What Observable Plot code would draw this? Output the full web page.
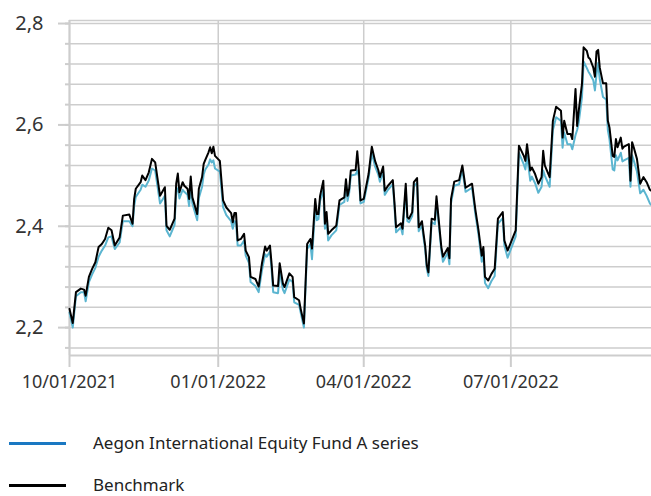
<!DOCTYPE html>
<html><head><meta charset="utf-8">
<script src="https://cdn.jsdelivr.net/npm/d3@7"></script>
<script src="https://cdn.jsdelivr.net/npm/@observablehq/plot@0.6"></script>
<style>
body{margin:0;background:#fff;font-family:"Noto Sans",sans-serif;overflow:hidden;}
#chart svg{display:block;}
#legend{position:relative;height:96px;}
.sw{position:absolute;left:9px;width:57px;height:3px;}
.lab{position:absolute;left:93px;font-size:17px;line-height:20px;color:#222;white-space:nowrap;}
</style></head><body>
<div id="chart"></div>
<div id="legend"></div>
<script>
const dates = [
"2021-10-01","2021-10-03","2021-10-05","2021-10-08","2021-10-10","2021-10-11","2021-10-13","2021-10-15","2021-10-17","2021-10-19",
"2021-10-21","2021-10-23","2021-10-25","2021-10-27","2021-10-29","2021-11-01","2021-11-03","2021-11-07","2021-11-09","2021-11-10",
"2021-11-11","2021-11-14","2021-11-15","2021-11-17","2021-11-19","2021-11-21","2021-11-23","2021-11-26","2021-11-29","2021-11-30",
"2021-12-02","2021-12-05","2021-12-06","2021-12-07","2021-12-08","2021-12-10","2021-12-11","2021-12-13","2021-12-14","2021-12-15",
"2021-12-16","2021-12-19","2021-12-20","2021-12-22","2021-12-23","2021-12-24","2021-12-26","2021-12-27","2021-12-28","2021-12-29",
"2021-12-30","2022-01-02","2022-01-04","2022-01-06","2022-01-09","2022-01-10","2022-01-11","2022-01-12","2022-01-13","2022-01-15",
"2022-01-17","2022-01-18","2022-01-20","2022-01-21","2022-01-24","2022-01-26","2022-01-28","2022-01-30","2022-01-31","2022-02-02",
"2022-02-03","2022-02-04","2022-02-07","2022-02-08","2022-02-10","2022-02-11","2022-02-14","2022-02-16","2022-02-17","2022-02-20",
"2022-02-21","2022-02-23","2022-02-24","2022-02-25","2022-02-27","2022-02-28","2022-03-02","2022-03-03","2022-03-04","2022-03-05",
"2022-03-07","2022-03-08","2022-03-09","2022-03-10","2022-03-12","2022-03-15","2022-03-17","2022-03-20","2022-03-21","2022-03-22",
"2022-03-23","2022-03-24","2022-03-27","2022-03-28","2022-03-29","2022-03-30","2022-04-01","2022-04-04","2022-04-06","2022-04-08",
"2022-04-10","2022-04-11","2022-04-13","2022-04-14","2022-04-16","2022-04-19","2022-04-20","2022-04-21","2022-04-24","2022-04-25",
"2022-04-27","2022-04-28","2022-04-29","2022-05-01","2022-05-02","2022-05-04","2022-05-05","2022-05-07","2022-05-08","2022-05-09",
"2022-05-10","2022-05-11","2022-05-13","2022-05-15","2022-05-16","2022-05-18","2022-05-19","2022-05-20","2022-05-23","2022-05-24",
"2022-05-25","2022-05-27","2022-05-30","2022-06-01","2022-06-03","2022-06-06","2022-06-07","2022-06-09","2022-06-11","2022-06-13",
"2022-06-14","2022-06-15","2022-06-17","2022-06-19","2022-06-21","2022-06-23","2022-06-26","2022-06-27","2022-06-29","2022-07-04",
"2022-07-06","2022-07-09","2022-07-10","2022-07-11","2022-07-13","2022-07-14","2022-07-16","2022-07-18","2022-07-20","2022-07-21",
"2022-07-22","2022-07-25","2022-07-27","2022-07-29","2022-08-01","2022-08-02","2022-08-03","2022-08-05","2022-08-07","2022-08-08",
"2022-08-10","2022-08-11","2022-08-12","2022-08-14","2022-08-15","2022-08-17","2022-08-18","2022-08-19","2022-08-21","2022-08-22",
"2022-08-23","2022-08-24","2022-08-25","2022-08-27","2022-08-29","2022-08-30","2022-08-31","2022-09-02","2022-09-03","2022-09-04",
"2022-09-05","2022-09-07","2022-09-08","2022-09-09","2022-09-12","2022-09-13","2022-09-14","2022-09-15","2022-09-17","2022-09-19",
"2022-09-21","2022-09-23","2022-09-25","2022-09-26"
];
const benchmark = [
2.237,2.209,2.270,2.277,2.275,2.263,2.300,2.316,2.329,2.359,
2.365,2.375,2.397,2.392,2.362,2.378,2.421,2.423,2.405,2.454,
2.474,2.487,2.500,2.491,2.506,2.533,2.526,2.460,2.477,2.401,
2.393,2.415,2.484,2.504,2.467,2.487,2.480,2.474,2.454,2.498,
2.457,2.424,2.474,2.497,2.523,2.531,2.546,2.556,2.544,2.557,
2.539,2.529,2.451,2.437,2.426,2.408,2.426,2.426,2.372,2.375,
2.385,2.352,2.339,2.300,2.296,2.281,2.326,2.360,2.352,2.362,
2.326,2.283,2.282,2.327,2.287,2.280,2.307,2.300,2.260,2.254,
2.237,2.208,2.287,2.365,2.375,2.356,2.454,2.424,2.424,2.460,
2.490,2.405,2.428,2.385,2.392,2.401,2.451,2.457,2.493,2.460,
2.474,2.510,2.511,2.548,2.510,2.451,2.454,2.503,2.557,2.529,
2.511,2.497,2.518,2.470,2.480,2.491,2.447,2.398,2.406,2.395,
2.484,2.418,2.415,2.428,2.487,2.495,2.398,2.410,2.385,2.362,
2.323,2.309,2.415,2.413,2.459,2.392,2.359,2.340,2.357,2.337,
2.454,2.488,2.491,2.520,2.476,2.482,2.484,2.434,2.392,2.342,
2.359,2.300,2.293,2.306,2.316,2.415,2.428,2.372,2.352,2.392,
2.559,2.539,2.529,2.562,2.510,2.516,2.503,2.484,2.497,2.549,
2.520,2.497,2.608,2.636,2.628,2.575,2.608,2.582,2.582,2.572,
2.671,2.598,2.628,2.681,2.753,2.746,2.733,2.730,2.713,2.695,
2.745,2.748,2.713,2.682,2.682,2.608,2.595,2.539,2.537,2.572,
2.556,2.575,2.553,2.557,2.562,2.490,2.566,2.556,2.533,2.484,
2.497,2.487,2.472,2.470
];
const fund = [
2.230,2.200,2.262,2.270,2.270,2.252,2.290,2.305,2.318,2.340,
2.352,2.362,2.378,2.380,2.355,2.368,2.410,2.410,2.400,2.440,
2.458,2.472,2.482,2.478,2.490,2.514,2.510,2.445,2.460,2.392,
2.380,2.403,2.468,2.475,2.455,2.472,2.468,2.462,2.440,2.478,
2.445,2.412,2.456,2.478,2.502,2.512,2.522,2.532,2.526,2.530,
2.514,2.508,2.438,2.422,2.410,2.395,2.410,2.408,2.362,2.362,
2.372,2.342,2.328,2.290,2.282,2.270,2.312,2.345,2.340,2.350,
2.315,2.270,2.268,2.312,2.275,2.268,2.295,2.290,2.250,2.245,
2.230,2.200,2.278,2.355,2.365,2.335,2.440,2.412,2.414,2.450,
2.472,2.395,2.415,2.372,2.382,2.392,2.442,2.448,2.482,2.450,
2.466,2.500,2.502,2.510,2.498,2.445,2.448,2.495,2.545,2.518,
2.502,2.488,2.508,2.462,2.472,2.483,2.440,2.388,2.398,2.384,
2.474,2.410,2.408,2.420,2.478,2.486,2.390,2.402,2.377,2.355,
2.316,2.302,2.408,2.404,2.450,2.385,2.352,2.330,2.348,2.325,
2.446,2.480,2.483,2.512,2.468,2.474,2.476,2.425,2.383,2.330,
2.350,2.288,2.278,2.292,2.302,2.405,2.416,2.362,2.338,2.380,
2.545,2.522,2.512,2.540,2.490,2.498,2.485,2.466,2.478,2.510,
2.500,2.478,2.590,2.615,2.608,2.555,2.585,2.562,2.562,2.552,
2.580,2.590,2.605,2.655,2.725,2.712,2.705,2.700,2.688,2.668,
2.700,2.722,2.690,2.655,2.650,2.590,2.572,2.512,2.510,2.540,
2.530,2.545,2.528,2.530,2.535,2.478,2.540,2.530,2.508,2.465,
2.472,2.460,2.445,2.442
];
const seriesNames = ["Aegon International Equity Fund A series", "Benchmark"];
const lineColors = ["#5bb5d0", "#000000"];
const legendColors = ["#1a78c2", "#000000"];
const yMajorTicks = [2.2, 2.4, 2.6, 2.8];
const yGridTicks = [2.16, 2.2, 2.24, 2.28, 2.32, 2.36, 2.4, 2.44, 2.48, 2.52, 2.56, 2.6, 2.64, 2.68, 2.72, 2.76, 2.8];
const xTickDates = ["2021-10-01", "2022-01-01", "2022-04-01", "2022-07-01"];
const xDomainDates = ["2021-10-01", "2022-09-26"];
const yDomain = [2.145, 2.806];

const parse = d3.utcParse("%Y-%m-%d");
const rows = dates.map((d, i) => ({date: parse(d), fund: fund[i], benchmark: benchmark[i]}));
const xDomain = xDomainDates.map(parse);
const xTicks = xTickDates.map(parse);
const grey = "#cdcdcd";

const chart = Plot.plot({
  width: 651, height: 400,
  marginLeft: 69, marginRight: 0, marginTop: 20, marginBottom: 45,
  style: {fontFamily: "'Noto Sans', sans-serif", background: "#fff", overflow: "visible"},
  x: {type: "utc", domain: xDomain},
  y: {domain: yDomain},
  marks: [
    Plot.gridY(yGridTicks, {stroke: grey, strokeOpacity: 1, strokeWidth: 1.5}),
    Plot.gridX(xTicks, {stroke: grey, strokeOpacity: 1, strokeWidth: 1.5}),
    Plot.ruleY([yDomain[1]], {stroke: grey, strokeWidth: 1.5}),
    Plot.ruleX([xDomain[0]], {stroke: grey, strokeWidth: 2}),
    Plot.ruleY([yDomain[0]], {stroke: grey, strokeWidth: 2}),
    Plot.axisY(yGridTicks, {tickSize: 4, stroke: grey, strokeWidth: 2, tickFormat: () => "", label: null}),
    Plot.axisY(yMajorTicks, {tickSize: 11, tickPadding: 15, stroke: grey, strokeWidth: 2, fill: "#333", fontSize: 20, label: null,
      tickFormat: d => d.toFixed(1).replace(".", ",")}),
    Plot.axisX(xTicks, {tickSize: 12, tickPadding: 8, stroke: grey, strokeWidth: 2, fill: "#333", fontSize: 18, label: null,
      tickFormat: d3.utcFormat("%m/%d/%Y")}),
    Plot.lineY(rows, {x: "date", y: "fund", stroke: lineColors[0], strokeWidth: 2}),
    Plot.lineY(rows, {x: "date", y: "benchmark", stroke: lineColors[1], strokeWidth: 2})
  ]
});
document.getElementById("chart").appendChild(chart);

const legend = document.getElementById("legend");
const centers = [43, 85];
seriesNames.forEach((name, i) => {
  const sw = document.createElement("div");
  sw.className = "sw";
  sw.style.top = (centers[i] - 1.5) + "px";
  sw.style.background = legendColors[i];
  legend.appendChild(sw);
  const lab = document.createElement("div");
  lab.className = "lab";
  lab.style.top = (centers[i] - 10) + "px";
  lab.textContent = name;
  legend.appendChild(lab);
});
</script>
</body></html>
